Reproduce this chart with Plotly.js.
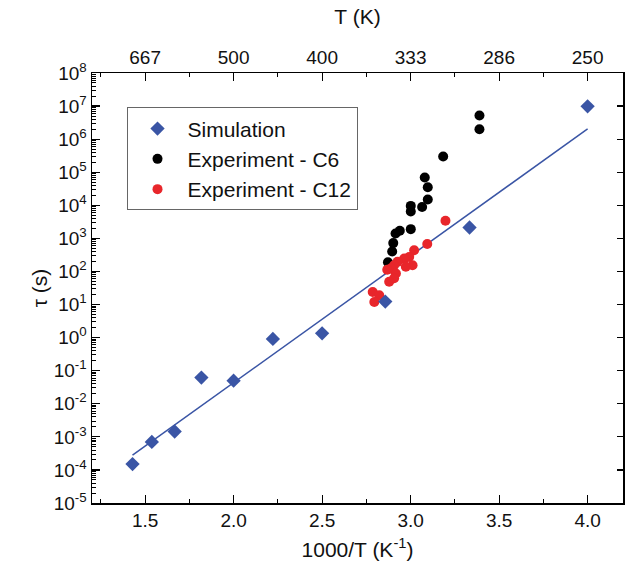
<!DOCTYPE html>
<html>
<head>
<meta charset="utf-8">
<script src="https://cdn.plot.ly/plotly-3.0.1.min.js"></script>
<style>html,body{margin:0;padding:0;background:#fff;}#chart{width:625px;height:572px;}</style>
</head>
<body>
<div id="chart"></div>
<script>
// Simulation (1000/T, tau in s)
const simX = [1.429, 1.538, 1.667, 1.818, 2.0, 2.222, 2.5, 2.857, 3.333, 4.0];
const simY = [1.5e-4, 7e-4, 1.45e-3, 0.062, 0.05, 0.91, 1.35, 12.3, 2130, 9.8e6];

// Experiment - C6
const c6X = [3.389, 3.389, 3.184, 3.080, 3.097, 3.097, 3.065, 3.001, 3.001, 3.001, 2.939, 2.915, 2.902, 2.896, 2.872];
const c6Y = [5.2e6, 2.0e6, 3.0e5, 6.9e4, 3.5e4, 1.5e4, 8.9e3, 9.6e3, 6.5e3, 1.9e3, 1.7e3, 1.4e3, 720, 400, 190];

// Experiment - C12
const c12X = [3.197, 3.094, 3.020, 2.992, 2.964, 3.011, 2.973, 2.926, 2.907, 2.888, 2.917, 2.907, 2.879, 2.786, 2.823, 2.795, 2.868];
const c12Y = [3400, 680, 440, 275, 245, 155, 138, 195, 155, 123, 87, 62, 49, 24, 19, 12, 112];

// Fit line endpoints
const fitX = [1.429, 4.0];
const fitY = [2.8e-4, 2.04e6];

// Tick labels
const xTickVals = [1.5, 2.0, 2.5, 3.0, 3.5, 4.0];
const xTickText = ['1.5', '2.0', '2.5', '3.0', '3.5', '4.0'];
const topTickText = ['667', '500', '400', '333', '286', '250'];
const xMinorVals = [1.25, 1.75, 2.25, 2.75, 3.25, 3.75];
const yExponents = [8, 7, 6, 5, 4, 3, 2, 1, 0, -1, -2, -3, -4, -5];

const yTickVals = yExponents.map(e => Math.pow(10, e));
const yTickText = yExponents.map(e => '10<sup>' + (e < 0 ? '-' + (-e) : e) + '</sup>');
const yMinorVals = [];
yExponents.forEach(e => { if (e < 8) for (let m = 2; m <= 9; m++) yMinorVals.push(m * Math.pow(10, e)); });

const FONT = 'Liberation Sans, Arial, sans-serif';
const BLUE = '#3a55a5';
const RED = '#e8262b';

const ghost = (xa, ya) => ({ x: simX, y: simY, xaxis: xa, yaxis: ya, mode: 'markers', marker: {opacity: 0}, showlegend: false, hoverinfo: 'skip' });

const traces = [
  { x: fitX, y: fitY, mode: 'lines', line: {color: BLUE, width: 1.5}, showlegend: false, hoverinfo: 'skip' },
  { x: c6X, y: c6Y, mode: 'markers', name: 'Experiment - C6', legendrank: 2, marker: {symbol: 'circle', size: 10, color: '#000'} },
  { x: c12X, y: c12Y, mode: 'markers', name: 'Experiment - C12', legendrank: 3, marker: {symbol: 'circle', size: 10, color: RED} },
  { x: simX, y: simY, mode: 'markers', name: 'Simulation', legendrank: 1, marker: {symbol: 'diamond', size: 11, color: BLUE} },
  ghost('x2', 'y2'),
  ghost('x3', 'y3'),
  ghost('x4', 'y3')
];

const axisCommon = {
  showgrid: false, zeroline: false, showline: true, linecolor: '#000', linewidth: 1.5,
  ticks: 'inside', tickcolor: '#000', tickwidth: 1.2,
  tickfont: {family: FONT, size: 19, color: '#111'}
};
const minorCommon = {
  showgrid: false, zeroline: false, showline: false, ticks: 'inside', tickcolor: '#000',
  tickwidth: 1, ticklen: 4, showticklabels: false, tickmode: 'array'
};

const layout = {
  width: 625, height: 572,
  margin: {l: 92, r: 2, t: 73, b: 69},
  paper_bgcolor: '#fff', plot_bgcolor: '#fff',
  font: {family: FONT, color: '#111'},
  showlegend: true,
  legend: {
    x: 0.065, y: 0.92, xanchor: 'left', yanchor: 'top',
    bordercolor: '#666', borderwidth: 1, bgcolor: '#fff',
    font: {family: FONT, size: 21, color: '#111'},
    itemwidth: 50
  },
  xaxis: Object.assign({}, axisCommon, {
    range: [1.2, 4.2], tickmode: 'array', tickvals: xTickVals, ticktext: xTickText, ticklen: 8,
    title: {text: '1000/T (K<sup>-1</sup>)', font: {family: FONT, size: 21, color: '#111'}, standoff: 12}
  }),
  xaxis2: Object.assign({}, axisCommon, {
    overlaying: 'x', side: 'top', anchor: 'y',
    range: [1.2, 4.2], tickmode: 'array', tickvals: xTickVals, ticktext: topTickText, ticklen: 8,
    title: {text: 'T (K)', font: {family: FONT, size: 21, color: '#111'}, standoff: 16}
  }),
  xaxis3: Object.assign({}, minorCommon, {
    overlaying: 'x', side: 'bottom', anchor: 'y', range: [1.2, 4.2], tickvals: xMinorVals
  }),
  xaxis4: Object.assign({}, minorCommon, {
    overlaying: 'x', side: 'top', anchor: 'y', range: [1.2, 4.2], tickvals: xMinorVals
  }),
  yaxis: Object.assign({}, axisCommon, {
    type: 'log', range: [-5, 8], tickmode: 'array', tickvals: yTickVals, ticktext: yTickText, ticklen: 8,
    title: {text: 'τ (s)', font: {family: FONT, size: 21, color: '#111'}, standoff: 0}
  }),
  yaxis2: Object.assign({}, axisCommon, {
    type: 'log', range: [-5, 8], overlaying: 'y', side: 'right', anchor: 'x',
    tickmode: 'array', tickvals: yTickVals, showticklabels: false, ticklen: 6
  }),
  yaxis3: Object.assign({}, minorCommon, {
    type: 'log', range: [-5, 8], overlaying: 'y', side: 'left', anchor: 'x', tickvals: yMinorVals
  })
};

Plotly.newPlot('chart', traces, layout, {displayModeBar: false, staticPlot: true});
</script>
</body>
</html>
